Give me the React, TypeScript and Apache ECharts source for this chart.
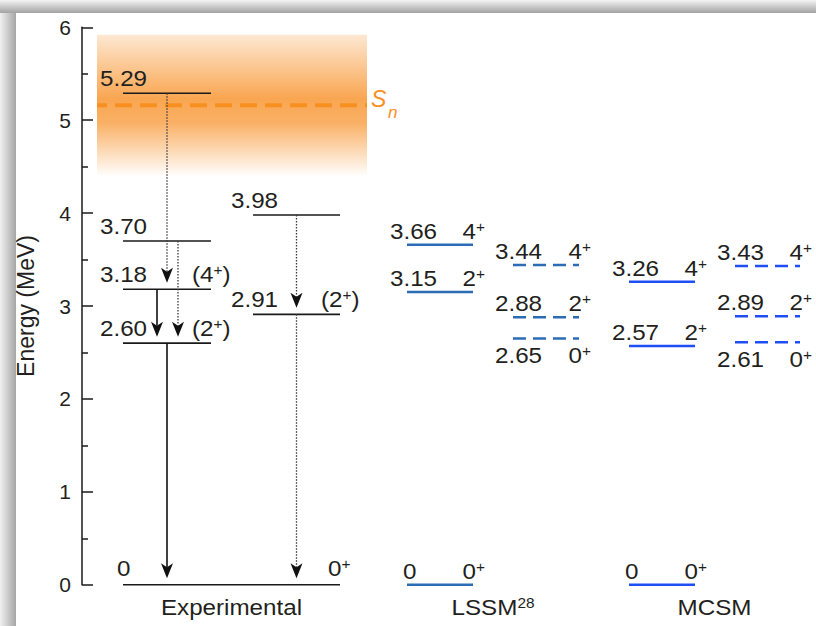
import React, { useEffect, useRef } from 'react';
import * as echarts from 'echarts';

// ---- level energies (MeV) and spin-parity assignments ----
const expLevelsA = [5.29, 3.7, 3.18, 2.6];
const expSpinsA = ['', '', '(4+)', '(2+)'];
const expLevelsB = [3.98, 2.91];
const expSpinsB = ['', '(2+)'];
const expGround = 0;
const expGroundSpin = '0+';

const lssmLevels = [3.66, 3.15, 0];
const lssmSpins = ['4+', '2+', '0+'];
const lssmExcitedLevels = [3.44, 2.88, 2.65];
const lssmExcitedSpins = ['4+', '2+', '0+'];

const mcsmLevels = [3.26, 2.57, 0];
const mcsmSpins = ['4+', '2+', '0+'];
const mcsmExcitedLevels = [3.43, 2.89, 2.61];
const mcsmExcitedSpins = ['4+', '2+', '0+'];

// gamma transitions between experimental levels
const transitionFrom = [5.29, 3.18, 3.7, 2.6, 3.98, 2.91];
const transitionTo = [3.18, 2.6, 2.6, 0, 2.91, 0];
const transitionDotted = [true, false, true, false, true, true];

// neutron separation energy and its uncertainty band
const snEnergy = 5.16;
const snBand = [4.39, 5.92];

const columnTitles = ['Experimental', 'LSSM', 'MCSM'];
const lssmReference = '28';

// ---- layout (pixel space of the hidden x axis) ----
const W = 816;
const H = 626;
const PLOT_LEFT = 82;
const COLS = {
  expA: [123, 211],
  expB: [253, 340],
  lssm: [407, 473],
  lssmAlt: [513, 579],
  mcsm: [629, 695],
  mcsmAlt: [735, 800],
};
const TRANSITION_X = [167, 157, 178, 167, 296.5, 296.5];
const BAND_X = [97, 367];

const FONT = "'Liberation Sans', Arial, Helvetica, sans-serif";
const INK = '#231f20';
const ORANGE = '#f7901e';
const LSSM_BLUE = '#2b6cb5';
const MCSM_BLUE = '#1f4ef5';
const SX = 1.1;

type Level = {
  x0: number;
  x1: number;
  e: number;
  value: string;
  spin: string;
  color: string;
  width: number;
  dash: number[] | null;
  valueDx: number;
  spinDx: number;
  dy: number;
};

const fmt = (e: number) => (e === 0 ? '0' : e.toFixed(2));
const richSpin = (s: string) => s.replace('+', '{s|+}');

function textEl(x: number, y: number, text: string, fill: string, size = 22, align = 'left') {
  return {
    type: 'text',
    x,
    y,
    scaleX: SX,
    silent: true,
    style: {
      text,
      fill,
      fontSize: size,
      fontFamily: FONT,
      align,
      verticalAlign: 'middle',
      rich: {
        s: { fontSize: 14, fontFamily: FONT, fill, verticalAlign: 'top' },
      },
    },
  };
}

function buildLevels(): Level[] {
  const out: Level[] = [];
  expLevelsA.forEach((e, i) =>
    out.push({ x0: COLS.expA[0], x1: COLS.expA[1], e, value: fmt(e), spin: expSpinsA[i], color: '#1a1a1a', width: 1.6, dash: null, valueDx: -23, spinDx: -19, dy: -15 })
  );
  expLevelsB.forEach((e, i) =>
    out.push({ x0: COLS.expB[0], x1: COLS.expB[1], e, value: fmt(e), spin: expSpinsB[i], color: '#1a1a1a', width: 1.6, dash: null, valueDx: -22, spinDx: -19, dy: -15 })
  );
  out.push({ x0: COLS.expA[0], x1: COLS.expB[1], e: expGround, value: fmt(expGround), spin: expGroundSpin, color: '#1a1a1a', width: 1.6, dash: null, valueDx: -6, spinDx: -12, dy: -16 });

  const addTheory = (levels: number[], spins: string[], col: number[], color: string, dashed: boolean) => {
    levels.forEach((e, i) => {
      const ground = e === 0;
      const below = dashed && spins[i] === '0+';
      out.push({
        x0: col[0],
        x1: col[1],
        e,
        value: fmt(e),
        spin: spins[i],
        color,
        width: 2.5,
        dash: dashed ? [13, 7] : null,
        valueDx: ground ? -4 : dashed ? -18 : -17,
        spinDx: -10.5,
        dy: below ? 17 : -13.5,
      });
    });
  };
  addTheory(lssmLevels, lssmSpins, COLS.lssm, LSSM_BLUE, false);
  addTheory(lssmExcitedLevels, lssmExcitedSpins, COLS.lssmAlt, LSSM_BLUE, true);
  addTheory(mcsmLevels, mcsmSpins, COLS.mcsm, MCSM_BLUE, false);
  addTheory(mcsmExcitedLevels, mcsmExcitedSpins, COLS.mcsmAlt, MCSM_BLUE, true);
  return out;
}

export default function App() {
  const ref = useRef<HTMLDivElement>(null);

  useEffect(() => {
    if (!ref.current) return;
    const chart = echarts.init(ref.current, undefined, { renderer: 'svg' });
    const levels = buildLevels();

    const shadowV = new echarts.graphic.LinearGradient(0, 0, 0, 1, [
      { offset: 0, color: '#f4f4f4' },
      { offset: 1, color: '#a2a2a2' },
    ]);
    const shadowH = new echarts.graphic.LinearGradient(0, 0, 1, 0, [
      { offset: 0, color: '#f0f0f0' },
      { offset: 1, color: '#a6a6a6' },
    ]);

    const mid = (c: number[]) => (c[0] + c[1]) / 2;

    chart.setOption({
      animation: false,
      backgroundColor: '#ffffff',
      textStyle: { fontFamily: FONT },
      grid: { left: PLOT_LEFT, right: 0, top: 27.3, bottom: 41.3, outerBoundsMode: 'none' },
      xAxis: { type: 'value', min: PLOT_LEFT, max: W, show: false },
      yAxis: {
        type: 'value',
        min: 0,
        max: 6,
        interval: 1,
        name: 'Energy (MeV)',
        nameLocation: 'middle',
        nameGap: 45,
        nameTextStyle: { fontSize: 23, color: INK, fontFamily: FONT },
        axisLine: { show: true, lineStyle: { color: '#1a1a1a', width: 1.5 } },
        axisTick: { show: true, inside: true, length: 11, lineStyle: { color: '#1a1a1a', width: 1.5 } },
        minorTick: { show: true, splitNumber: 2, length: 6, lineStyle: { color: '#1a1a1a', width: 1.5 } },
        axisLabel: { fontSize: 21, color: INK, fontFamily: FONT, margin: 11 },
        splitLine: { show: false },
        minorSplitLine: { show: false },
      },
      graphic: [
        { type: 'rect', shape: { x: 0, y: 0, width: W, height: 13 }, style: { fill: shadowV }, silent: true },
        { type: 'rect', shape: { x: 0, y: 13, width: 16, height: H - 13 }, style: { fill: shadowH }, silent: true },
        textEl(mid([COLS.expA[0], COLS.expB[1]]), 607, columnTitles[0], INK, 22, 'center'),
        {
          ...textEl(mid([COLS.lssm[0], COLS.lssmAlt[1]]), 607, `${columnTitles[1]}{r|${lssmReference}}`, INK, 22, 'center'),
          style: {
            text: `${columnTitles[1]}{r|${lssmReference}}`,
            fill: INK,
            fontSize: 22,
            fontFamily: FONT,
            align: 'center',
            verticalAlign: 'middle',
            rich: { r: { fontSize: 14, fontFamily: FONT, fill: INK, verticalAlign: 'top' } },
          },
        },
        textEl(mid([COLS.mcsm[0], COLS.mcsmAlt[1]]), 607, columnTitles[2], INK, 22, 'center'),
      ],
      series: [
        {
          // separation-energy band with the S_n line
          type: 'custom',
          silent: true,
          data: [[BAND_X[0], BAND_X[1], snBand[0], snBand[1], snEnergy]],
          encode: { x: [0, 1], y: [2, 3] },
          renderItem: (_params: any, api: any) => {
            const tl = api.coord([BAND_X[0], snBand[1]]);
            const br = api.coord([BAND_X[1], snBand[0]]);
            const sn = api.coord([BAND_X[1], snEnergy]);
            const snL = api.coord([BAND_X[0], snEnergy]);
            const fill = new echarts.graphic.LinearGradient(0, 0, 0, 1, [
              { offset: 0, color: 'rgba(248,150,50,0.22)' },
              { offset: 0.45, color: 'rgba(248,150,50,0.85)' },
              { offset: 0.62, color: 'rgba(248,150,50,0.75)' },
              { offset: 1, color: 'rgba(248,150,50,0.0)' },
            ]);
            return {
              type: 'group',
              children: [
                { type: 'rect', shape: { x: tl[0], y: tl[1], width: br[0] - tl[0], height: br[1] - tl[1] }, style: { fill } },
                {
                  type: 'line',
                  shape: { x1: snL[0], y1: snL[1], x2: sn[0], y2: sn[1] },
                  style: { stroke: ORANGE, lineWidth: 4, lineDash: [17, 8], lineDashOffset: 7 },
                },
                {
                  type: 'text',
                  x: sn[0] + 4,
                  y: sn[1] - 6,
                  style: { text: 'S', fill: ORANGE, fontSize: 23, fontStyle: 'italic', fontFamily: FONT, align: 'left', verticalAlign: 'middle' },
                },
                {
                  type: 'text',
                  x: sn[0] + 21,
                  y: sn[1] + 7,
                  style: { text: 'n', fill: ORANGE, fontSize: 17, fontStyle: 'italic', fontFamily: FONT, align: 'left', verticalAlign: 'middle' },
                },
              ],
            };
          },
        },
        {
          // energy levels with value and spin labels
          type: 'custom',
          silent: true,
          data: levels.map((l) => [l.x0, l.x1, l.e]),
          encode: { x: [0, 1], y: 2 },
          renderItem: (params: any, api: any) => {
            const lv = levels[params.dataIndex];
            const a = api.coord([lv.x0, lv.e]);
            const b = api.coord([lv.x1, lv.e]);
            const children: any[] = [
              {
                type: 'line',
                shape: { x1: a[0], y1: a[1], x2: b[0], y2: b[1] },
                style: { stroke: lv.color, lineWidth: lv.width, lineDash: lv.dash },
              },
              textEl(a[0] + lv.valueDx, a[1] + lv.dy, lv.value, INK),
            ];
            if (lv.spin) children.push(textEl(b[0] + lv.spinDx, b[1] + lv.dy, richSpin(lv.spin), INK));
            return { type: 'group', children };
          },
        },
        {
          // gamma-ray transitions
          type: 'custom',
          silent: true,
          data: transitionFrom.map((f, i) => [TRANSITION_X[i], f, transitionTo[i]]),
          encode: { x: 0, y: [1, 2] },
          renderItem: (params: any, api: any) => {
            const i = params.dataIndex;
            const x = TRANSITION_X[i];
            const top = api.coord([x, transitionFrom[i]]);
            const bot = api.coord([x, transitionTo[i]]);
            const px = top[0];
            const tipY = bot[1] - 6.5;
            const headH = 15;
            const notch = 4;
            const dotted = transitionDotted[i];
            return {
              type: 'group',
              children: [
                {
                  type: 'line',
                  shape: { x1: px, y1: top[1], x2: px, y2: tipY - headH + notch },
                  style: dotted
                    ? { stroke: '#3a3a3a', lineWidth: 1.3, lineDash: [1.5, 1.5] }
                    : { stroke: '#111', lineWidth: 1.6 },
                },
                {
                  type: 'polygon',
                  shape: {
                    points: [
                      [px, tipY],
                      [px - 6, tipY - headH],
                      [px, tipY - headH + notch],
                      [px + 6, tipY - headH],
                    ],
                  },
                  style: { fill: '#111' },
                },
              ],
            };
          },
        },
      ],
    });

    return () => chart.dispose();
  }, []);

  return (
    <div
      ref={ref}
      style={{ position: 'fixed', left: 0, top: 0, width: W, height: H, background: '#fff' }}
    />
  );
}
